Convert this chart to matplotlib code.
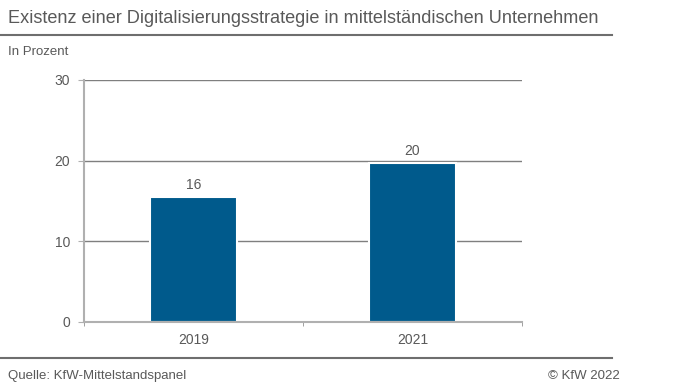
import matplotlib.pyplot as plt
from matplotlib.lines import Line2D

plt.rcParams['font.family'] = ['Liberation Sans', 'DejaVu Sans']

# data
years = ['2019', '2021']
shares = [15.5, 19.7]
labels = ['16', '20']

textColor = '#595959'
barColor = '#005a8c'

fig = plt.figure(figsize=(6.96, 3.92), dpi=100)
ax = fig.add_axes([0.1207, 0.1793, 0.6293, 0.6167])

x = range(len(years))
ax.set_axisbelow(True)
ax.yaxis.grid(True, color='#7f7f7f', linewidth=1)
bars = ax.bar(x, shares, width=0.395, color=barColor, edgecolor='white', linewidth=1.5)
for b, lab in zip(bars, labels):
    ax.text(b.get_x() + b.get_width() / 2, b.get_height() + 0.6, lab,
            ha='center', va='bottom', fontsize=10, color=textColor)

ax.set_xlim(-0.5, 1.5)
ax.set_ylim(0, 30)
ax.set_yticks([0, 10, 20, 30])
ax.set_xticks(list(x))
ax.set_xticklabels(years)
ax.set_xticks([-0.5, 0.5, 1.5], minor=True)
ax.tick_params(axis='x', which='major', length=0, pad=8, labelsize=10, labelcolor=textColor)
ax.tick_params(axis='x', which='minor', length=3, color='#909090')
ax.tick_params(axis='y', length=4, color='#b0b0b0', labelsize=10, labelcolor=textColor, pad=6)
for s in ['top', 'right']:
    ax.spines[s].set_visible(False)
for s in ['left', 'bottom']:
    ax.spines[s].set_color('#b0b0b0')
    ax.spines[s].set_linewidth(1.5)

# title, header and footer
fig.text(0.012, 0.952, 'Existenz einer Digitalisierungsstrategie in mittelständischen Unternehmen',
         fontsize=13.1, color=textColor, va='center')
fig.add_artist(Line2D([0, 0.88], [0.911, 0.911], color='#6e6e6e', linewidth=1.5))
fig.text(0.012, 0.868, 'In Prozent', fontsize=9.5, color=textColor, va='center')
fig.add_artist(Line2D([0, 0.88], [0.087, 0.087], color='#6e6e6e', linewidth=1.5))
fig.text(0.012, 0.04, 'Quelle: KfW-Mittelstandspanel', fontsize=9.5, color=textColor, va='center')
fig.text(0.891, 0.04, '© KfW 2022', fontsize=9.5, color=textColor, va='center', ha='right')

plt.savefig('out.png', dpi=100)
